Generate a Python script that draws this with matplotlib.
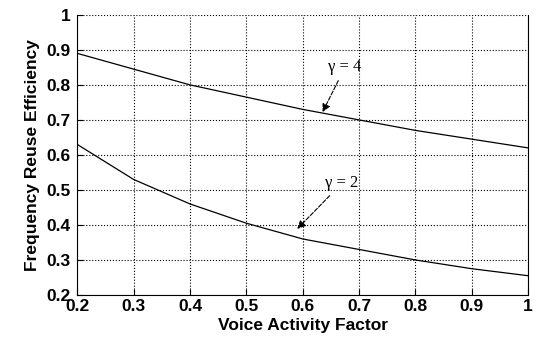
import numpy as np
import matplotlib.pyplot as plt

plt.rcParams['font.family'] = ['Liberation Sans', 'DejaVu Sans']

# voice activity factor
v = [0.2, 0.3, 0.4, 0.5, 0.6, 0.7, 0.8, 0.9, 1.0]
# frequency reuse efficiency
eff_g4 = [0.89, 0.845, 0.80, 0.765, 0.73, 0.70, 0.67, 0.645, 0.62]
eff_g2 = [0.63, 0.53, 0.46, 0.405, 0.36, 0.33, 0.30, 0.275, 0.255]

xticks = [0.2, 0.3, 0.4, 0.5, 0.6, 0.7, 0.8, 0.9, 1.0]
xlabels = ['0.2', '0.3', '0.4', '0.5', '0.6', '0.7', '0.8', '0.9', '1']
yticks = [0.2, 0.3, 0.4, 0.5, 0.6, 0.7, 0.8, 0.9, 1.0]
ylabels = ['0.2', '0.3', '0.4', '0.5', '0.6', '0.7', '0.8', '0.9', '1']

fig = plt.figure(figsize=(5.4, 3.45), dpi=100)
ax = fig.add_axes([0.143, 0.145, 0.835, 0.812])

ax.plot(v, eff_g4, color='black', linewidth=0.9)
ax.plot(v, eff_g2, color='black', linewidth=0.9)

ax.set_xlim(0.2, 1.0)
ax.set_ylim(0.2, 1.0)
ax.set_xticks(xticks)
ax.set_xticklabels(xlabels, fontweight='bold', fontsize=12.5)
ax.set_yticks(yticks)
ax.set_yticklabels(ylabels, fontweight='bold', fontsize=12.5)
ax.tick_params(direction='in', length=4)
ax.tick_params(axis='x', pad=3)
ax.tick_params(axis='y', pad=5)
ax.grid(True, linestyle=':', color='black', linewidth=0.8)
ax.spines['top'].set_visible(False)

ax.set_xlabel('Voice Activity Factor', fontweight='bold', fontsize=12.5, labelpad=3)
ax.set_ylabel('Frequency Reuse Efficiency', fontweight='bold', fontsize=12.5, labelpad=4)

ax.annotate('γ = 4', xy=(0.633, 0.715), xytext=(0.675, 0.85),
            ha='center', va='center', fontsize=12, family='Liberation Serif',
            arrowprops=dict(arrowstyle='-|>', color='black', lw=0.8, linestyle='--'))
ax.annotate('γ = 2', xy=(0.587, 0.383), xytext=(0.67, 0.52),
            ha='center', va='center', fontsize=12, family='Liberation Serif',
            arrowprops=dict(arrowstyle='-|>', color='black', lw=0.8, linestyle='--'))

fig.savefig('out.png', dpi=100)
